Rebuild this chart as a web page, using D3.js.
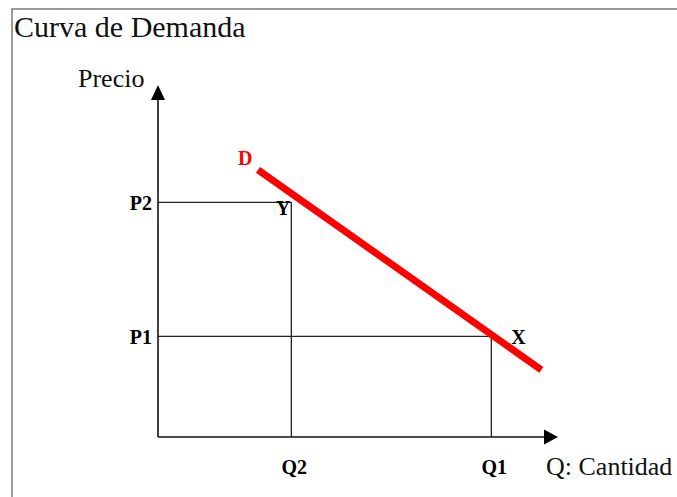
<!DOCTYPE html>
<html>

<head>
    <script src="https://d3js.org/d3.v7.min.js"></script>
    <style>
        body { margin: 0; background: #fff; }
        text { font-family: "Liberation Serif", "Times New Roman", serif; }
    </style>
    <script>
        const w = 677
        const h = 497
        // quantities on the x axis and prices on the y axis
        const qLabels = ["Q2", "Q1"]
        const qValues = [2, 5]
        const pLabels = ["P2", "P1"]
        const pValues = [7, 3]
        // demand curve end points (quantity, price)
        const demandQ = [1.5, 5.75]
        const demandP = [7.97, 2]
        // points on the curve
        const pointLabels = ["Y", "X"]

        function draw() {
            const svg = d3.select("body").append("svg")
                .attr("width", w)
                .attr("height", h)

            const x = d3.scaleLinear().domain([0, 6]).range([158, 558])
            const y = d3.scaleLinear().domain([0, 10.5]).range([437, 85])

            // frame
            svg.append("path")
                .attr("d", `M12,${h} L12,9 L${w},9`)
                .attr("fill", "none")
                .attr("stroke", "#9a9a9a")
                .attr("stroke-width", 2)

            svg.append("text")
                .attr("x", 14).attr("y", 37)
                .attr("font-size", 30)
                .attr("fill", "#111")
                .text("Curva de Demanda")

            // guide lines
            const guides = svg.append("g").attr("stroke", "#222").attr("stroke-width", 1.3)
            qValues.forEach((q, i) => {
                guides.append("line")
                    .attr("x1", x(0)).attr("x2", x(q))
                    .attr("y1", y(pValues[i])).attr("y2", y(pValues[i]))
                guides.append("line")
                    .attr("x1", x(q)).attr("x2", x(q))
                    .attr("y1", y(pValues[i])).attr("y2", y(0))
            })

            // axes
            const axes = svg.append("g").attr("stroke", "#111").attr("stroke-width", 1.6)
            axes.append("line")
                .attr("x1", x(0)).attr("x2", x(0))
                .attr("y1", y(0)).attr("y2", y(10.5) + 14)
            axes.append("line")
                .attr("x1", x(0)).attr("x2", x(6) - 14)
                .attr("y1", y(0)).attr("y2", y(0))
            svg.append("path")
                .attr("d", `M${x(0)},${y(10.5)} l-7,15 l14,0 Z`)
                .attr("fill", "#000")
            svg.append("path")
                .attr("d", `M${x(6)},${y(0)} l-14,-7.5 l0,15 Z`)
                .attr("fill", "#000")

            // demand curve
            svg.append("line")
                .attr("x1", x(demandQ[0])).attr("y1", y(demandP[0]))
                .attr("x2", x(demandQ[1])).attr("y2", y(demandP[1]))
                .attr("stroke", "#ff0000")
                .attr("stroke-width", 7)

            // labels
            svg.selectAll(".plab").data(pLabels).join("text")
                .attr("class", "plab")
                .attr("x", x(0) - 6)
                .attr("y", (d, i) => y(pValues[i]) + 8)
                .attr("text-anchor", "end")
                .attr("font-size", 20).attr("font-weight", "bold")
                .text(d => d)
            svg.selectAll(".qlab").data(qLabels).join("text")
                .attr("class", "qlab")
                .attr("x", (d, i) => x(qValues[i]) + 3)
                .attr("y", 474)
                .attr("text-anchor", "middle")
                .attr("font-size", 20).attr("font-weight", "bold")
                .text(d => d)
            svg.selectAll(".ptlab").data(pointLabels).join("text")
                .attr("class", "ptlab")
                .attr("x", (d, i) => i == 0 ? x(qValues[i]) - 1 : x(qValues[i]) + 20)
                .attr("y", (d, i) => y(pValues[i]) + (i == 0 ? 13 : 8))
                .attr("text-anchor", (d, i) => i == 0 ? "end" : "start")
                .attr("font-size", 20).attr("font-weight", "bold")
                .text(d => d)
            svg.append("text")
                .attr("x", x(demandQ[0]) - 20).attr("y", y(demandP[0]) - 5)
                .attr("font-size", 20).attr("font-weight", "bold")
                .attr("fill", "#ff0000")
                .text("D")

            svg.append("text")
                .attr("x", 78).attr("y", 87)
                .attr("font-size", 26)
                .attr("fill", "#111")
                .text("Precio")
            svg.append("text")
                .attr("x", 546).attr("y", 475)
                .attr("font-size", 26)
                .attr("fill", "#111")
                .text("Q: Cantidad")
        }
    </script>
</head>

<body onload="draw()">
</body>

</html>
